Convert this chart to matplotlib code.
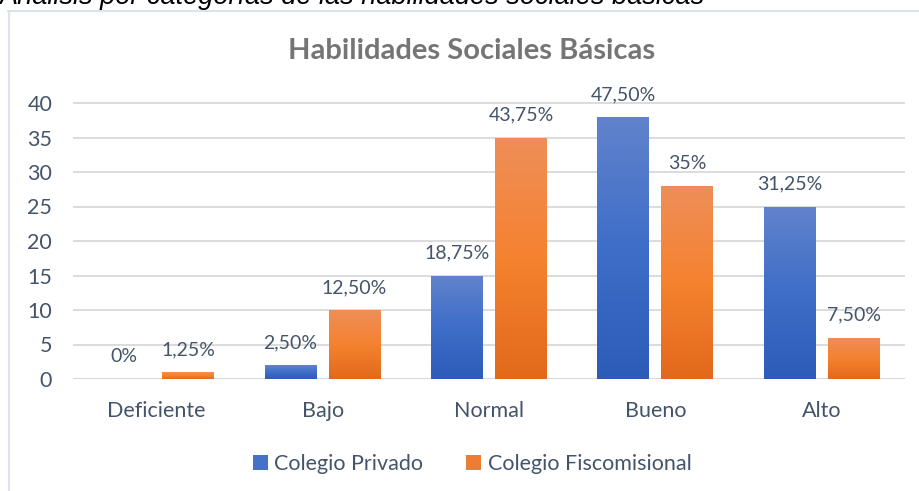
import matplotlib
matplotlib.use("Agg")
import matplotlib.pyplot as plt
import numpy as np
from matplotlib.lines import Line2D
from matplotlib.patches import Patch
from matplotlib.colors import LinearSegmentedColormap

categories = ["Deficiente", "Bajo", "Normal", "Bueno", "Alto"]
privado = [0, 2, 15, 38, 25]
fiscomisional = [1, 10, 35, 28, 6]
privado_labels = ["0%", "2,50%", "18,75%", "47,50%", "31,25%"]
fisco_labels = ["1,25%", "12,50%", "43,75%", "35%", "7,50%"]
yticks = [0, 5, 10, 15, 20, 25, 30, 35, 40]
series_names = ["Colegio Privado", "Colegio Fiscomisional"]
title = "Habilidades Sociales Básicas"
caption = "Análisis por categorías de las habilidades sociales básicas"

W, H = 920, 491
fig = plt.figure(figsize=(W / 100, H / 100), dpi=100)
fig.patch.set_facecolor("white")

FONT = "Lato"
txt_color = "#44546a"

x0, x1 = 73, 905
y0px, y40px = 379, 103
ax_top_px = 90
ax = fig.add_axes([x0 / W, (H - y0px) / H, (x1 - x0) / W, (y0px - ax_top_px) / H])
ymax = 40 * (y0px - ax_top_px) / (y0px - y40px)

x = np.arange(len(categories))
bw = 0.3125
gap = 0.072
off = (bw + gap) / 2

b1 = ax.bar(x - off, privado, bw, color="#4472c4", zorder=3, label=series_names[0])
b2 = ax.bar(x + off, fiscomisional, bw, color="#ed7d31", zorder=3, label=series_names[1])

blue_cmap = LinearSegmentedColormap.from_list("b", ["#2d5cb8", "#3e6ec8", "#6283cc"])
orange_cmap = LinearSegmentedColormap.from_list("o", ["#e2691b", "#f5822f", "#ef8e59"])
grad = np.linspace(0, 1, 256).reshape(-1, 1)
for bars, cmap in ((b1, blue_cmap), (b2, orange_cmap)):
    for p in bars:
        h = p.get_height()
        if h <= 0:
            continue
        xl = p.get_x()
        im = ax.imshow(grad, cmap=cmap, aspect="auto", origin="lower",
                       extent=(xl, xl + p.get_width(), 0, h), zorder=4)
        im.set_clip_path(p)
        p.set_alpha(0)

ax.set_xlim(-0.5, len(categories) - 0.5)
ax.set_ylim(0, ymax)

for bars, labels in ((b1, privado_labels), (b2, fisco_labels)):
    for p, lab in zip(bars, labels):
        ax.annotate(lab, (p.get_x() + p.get_width() / 2, p.get_height()),
                    xytext=(0, 10), textcoords="offset points", ha="center", va="bottom",
                    fontsize=14, color=txt_color, family=FONT, zorder=5)

ax.set_yticks(yticks)
ax.set_yticklabels([str(v) for v in yticks], fontsize=15.5, color=txt_color, family=FONT)
ax.set_xticks(x)
ax.set_xticklabels(categories, fontsize=15.5, color=txt_color, family=FONT)
ax.tick_params(axis="both", length=0)
ax.tick_params(axis="y", pad=15)
ax.tick_params(axis="x", pad=16)
ax.grid(axis="y", color="#d9d9d9", linewidth=1.3, zorder=0)
ax.set_axisbelow(True)
for s in ax.spines.values():
    s.set_visible(False)
ax.axhline(0, color="#d9d9d9", linewidth=1.5, zorder=2)

fig.text(472 / W, 1 - 51 / H, title, ha="center", va="center", fontsize=21,
         fontweight="bold", color="#757575", family=FONT)

# caption clipped at the top edge, as in the reference
fig.text(-1 / W, 1 - 4 / H, caption, ha="left", va="baseline", fontsize=19.5,
         style="italic", color="black", family="Liberation Sans")

fig.add_artist(Line2D([8 / W, 1], [1 - 11 / H, 1 - 11 / H], transform=fig.transFigure,
                      color="#dde3ea", linewidth=1.5))
fig.add_artist(Line2D([8.5 / W, 8.5 / W], [0, 1 - 11 / H], transform=fig.transFigure,
                      color="#dde3ea", linewidth=1.5))

handles = [Patch(facecolor="#4472c4"), Patch(facecolor="#ed7d31")]
leg = fig.legend(handles, series_names, loc="center", bbox_to_anchor=(472 / W, 1 - 464 / H),
                 ncol=2, frameon=False, handlelength=0.7, handleheight=0.7,
                 handletextpad=0.3, columnspacing=2.0,
                 prop={"family": FONT, "size": 15.5})
for t in leg.get_texts():
    t.set_color(txt_color)

fig.savefig("out.png", dpi=100)
